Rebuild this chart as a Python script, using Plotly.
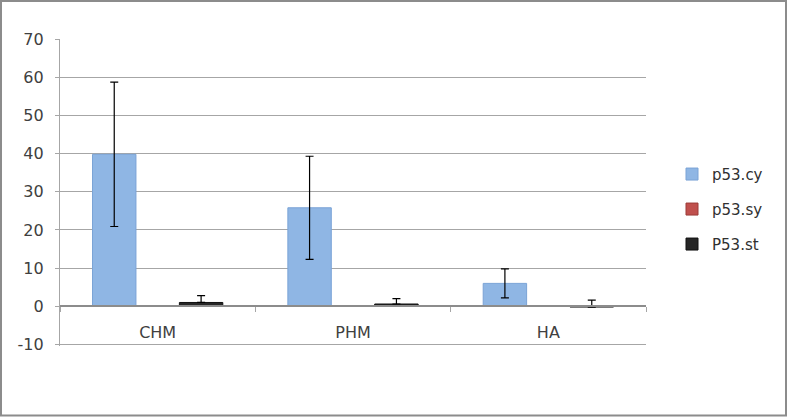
import plotly.graph_objects as go

categories = ["CHM", "PHM", "HA"]
series_names = ["p53.cy", "p53.sy", "P53.st"]
cy_values = [39.8, 25.8, 6.0]
cy_err_plus = [18.9, 13.5, 3.8]
cy_err_minus = [18.9, 13.5, 3.8]
sy_values = [0.0, 0.0, 0.0]
sy_err_plus = [0.0, 0.0, 0.0]
sy_err_minus = [0.0, 0.0, 0.0]
st_values = [1.0, 0.6, -0.2]
st_err_plus = [1.8, 1.4, 1.8]
st_err_minus = [0.0, 0.0, 0.0]
y_ticks = [-10, 0, 10, 20, 30, 40, 50, 60, 70]
y_tick_labels = ["-10", "0", "10", "20", "30", "40", "50", "60", "70"]

W, H = 788, 418
ML, MR, MT, MB = 60, 142, 39, 71.5
PW, PH = W - ML - MR, H - MT - MB
Y_LO, Y_HI = -10.4, 70

FONT = "'DejaVu Sans', Verdana, sans-serif"

fig = go.Figure()
styles = [
    ("#8fb6e4", "#7aa3d6", cy_values, cy_err_plus, cy_err_minus),
    ("#c0504d", "#9c3b38", sy_values, sy_err_plus, sy_err_minus),
    ("#262626", "#111111", st_values, st_err_plus, st_err_minus),
]
for name, (fill, edge, vals, eplus, eminus) in zip(series_names, styles):
    fig.add_trace(go.Bar(
        x=categories, y=vals, name=name, legendgroup=name,
        marker=dict(color=fill, line=dict(color=edge, width=1)),
        error_y=dict(type="data", symmetric=False, array=eplus, arrayminus=eminus,
                     visible=any(e > 0 for e in eplus),
                     color="black", thickness=1.2, width=4),
    ))

fig.update_layout(
    width=W, height=H,
    margin=dict(l=ML, r=MR, t=MT, b=MB),
    paper_bgcolor="white", plot_bgcolor="white",
    barmode="group", bargap=0.333, bargroupgap=0,
    font=dict(family=FONT, color="#404040", size=15),
    legend=dict(x=(672 - ML) / PW, xanchor="left", y=(H - MB - 158) / PH, yanchor="top",
                font=dict(size=15, color="#303030"), tracegroupgap=12.5,
                itemwidth=30, bgcolor="rgba(0,0,0,0)"),
    showlegend=True,
)
fig.update_yaxes(
    range=[Y_LO, Y_HI], tickvals=y_ticks, ticktext=y_tick_labels,
    showgrid=True, gridcolor="#a6a6a6", gridwidth=1.3,
    zeroline=False,
    showline=True, linecolor="#a6a6a6", linewidth=1.3,
    ticks="outside", ticklen=4, tickcolor="#a6a6a6",
    tickfont=dict(size=16, color="#404040"),
    ticklabelstandoff=8,
)
fig.update_xaxes(
    anchor="free", position=(0 - Y_LO) / (Y_HI - Y_LO),
    showline=True, linecolor="#8c8c8c", linewidth=1.5,
    ticks="outside", ticklen=5, tickcolor="#a6a6a6", tickson="boundaries",
    showgrid=False,
    tickfont=dict(size=16, color="#404040"),
    ticklabelstandoff=12,
)
fig.add_shape(
    type="rect", xref="paper", yref="paper",
    x0=(1 - ML) / PW, x1=(W - 2 - ML) / PW,
    y0=-(MB - 2) / PH, y1=(H - MB - 1) / PH,
    line=dict(color="#8c8c8c", width=2), fillcolor="rgba(0,0,0,0)", layer="below",
)

fig.write_html("out.html", config={"displayModeBar": False},
               post_script="document.body.style.margin='0px';")
